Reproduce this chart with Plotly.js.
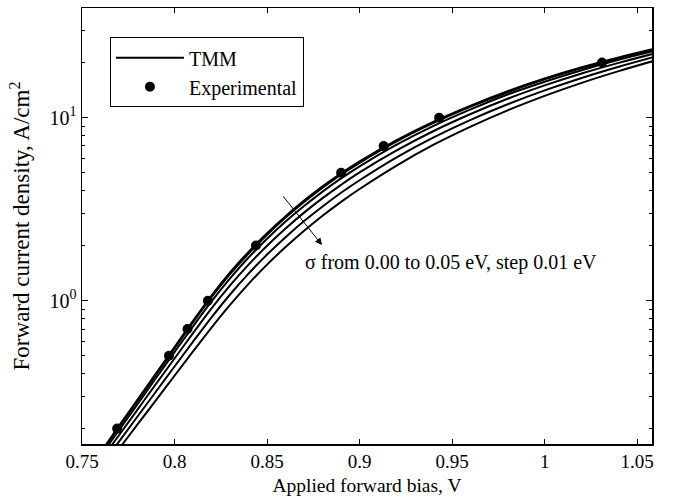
<!DOCTYPE html>
<html>
<head>
<meta charset="utf-8">
<script src="https://cdn.plot.ly/plotly-3.0.1.min.js"></script>
<style>
  html, body { margin: 0; padding: 0; background: #fff; }
  #chart { width: 675px; height: 499px; }
</style>
</head>
<body>
<div id="chart"></div>
<script>
// Applied forward bias (V) grid shared by the TMM curves
const vGrid = [0.76, 0.77, 0.78, 0.79, 0.80, 0.81, 0.82, 0.83, 0.84, 0.85, 0.86, 0.87, 0.88, 0.89, 0.90, 0.92, 0.94, 0.96, 0.98, 1.00, 1.02, 1.04, 1.06];

// Forward current density (A/cm^2) of the TMM curves, sigma = 0.00 ... 0.05 eV
const jSigma000 = [0.148, 0.207, 0.288, 0.401, 0.558, 0.776, 1.067, 1.426, 1.849, 2.339, 2.897, 3.524, 4.217, 4.966, 5.768, 7.534, 9.506, 11.64, 13.96, 16.37, 18.84, 21.33, 23.88];
const jSigma001 = [0.146, 0.204, 0.283, 0.394, 0.548, 0.762, 1.045, 1.396, 1.811, 2.291, 2.844, 3.459, 4.140, 4.875, 5.662, 7.413, 9.354, 11.48, 13.77, 16.18, 18.62, 21.13, 23.71];
const jSigma002 = [0.142, 0.196, 0.272, 0.378, 0.524, 0.724, 0.991, 1.324, 1.722, 2.178, 2.704, 3.289, 3.945, 4.656, 5.420, 7.112, 9.016, 11.09, 13.37, 15.70, 18.16, 20.70, 23.23];
const jSigma003 = [0.134, 0.184, 0.254, 0.351, 0.483, 0.665, 0.908, 1.211, 1.574, 1.995, 2.477, 3.027, 3.631, 4.295, 5.023, 6.622, 8.453, 10.47, 12.68, 15.00, 17.42, 19.91, 22.49];
const jSigma004 = [0.124, 0.170, 0.233, 0.319, 0.437, 0.597, 0.811, 1.081, 1.406, 1.786, 2.223, 2.723, 3.273, 3.890, 4.550, 6.067, 7.798, 9.727, 11.83, 14.09, 16.48, 18.97, 21.58];
const jSigma005 = [0.114, 0.155, 0.211, 0.286, 0.389, 0.528, 0.713, 0.948, 1.236, 1.574, 1.963, 2.410, 2.911, 3.467, 4.074, 5.470, 7.112, 8.933, 10.96, 13.15, 15.49, 17.95, 20.56];

const sigmaCurves = [jSigma000, jSigma001, jSigma002, jSigma003, jSigma004, jSigma005];
const sigmaNames = ['σ = 0.00 eV', 'σ = 0.01 eV', 'σ = 0.02 eV', 'σ = 0.03 eV', 'σ = 0.04 eV', 'σ = 0.05 eV'];

// Experimental points
const expV = [0.769, 0.797, 0.807, 0.818, 0.844, 0.890, 0.913, 0.943, 1.031];
const expJ = [0.2, 0.5, 0.7, 1.0, 2.0, 5.0, 7.0, 10, 20];

// Axis ticks
const xTickVals = [0.75, 0.8, 0.85, 0.9, 0.95, 1, 1.05];
const xTickText = ['0.75', '0.8', '0.85', '0.9', '0.95', '1', '1.05'];
const yTickVals = [1, 10];
const yTickText = ['10<sup>0</sup>', '10<sup>1</sup>'];
const yMinorVals = [0.2, 0.3, 0.4, 0.5, 0.6, 0.7, 0.8, 0.9, 2, 3, 4, 5, 6, 7, 8, 9, 20, 30];

const FONT = '"Liberation Serif", "Times New Roman", serif';

const traces = sigmaCurves.map((j, i) => ({
  type: 'scatter',
  mode: 'lines',
  x: vGrid,
  y: j,
  name: i === 0 ? 'TMM' : sigmaNames[i],
  showlegend: i === 0,
  legendgroup: 'tmm',
  line: { color: '#000', width: 2, shape: 'spline', smoothing: 1 }
}));

traces.push({
  type: 'scatter',
  mode: 'markers',
  x: expV,
  y: expJ,
  name: 'Experimental',
  legendgroup: 'exp',
  marker: { color: '#000', size: 10, symbol: 'circle' }
});

const layout = {
  width: 675,
  height: 499,
  margin: { l: 82, r: 23, t: 8, b: 55 },
  paper_bgcolor: '#fff',
  plot_bgcolor: '#fff',
  font: { family: FONT, color: '#000', size: 19 },
  showlegend: true,
  legend: {
    x: 0.049, y: 0.933, xanchor: 'left', yanchor: 'top',
    bordercolor: '#000', borderwidth: 1, bgcolor: '#fff',
    font: { family: FONT, size: 20, color: '#000' },
    itemwidth: 68,
    tracegroupgap: 0
  },
  xaxis: {
    range: [0.75, 1.058],
    tickmode: 'array', tickvals: xTickVals, ticktext: xTickText,
    ticks: 'inside', ticklen: 5, tickwidth: 1, tickcolor: '#000',
    showline: true, linecolor: '#000', linewidth: 1.5, mirror: 'ticks',
    showgrid: false, zeroline: false,
    tickfont: { family: FONT, size: 19, color: '#000' },
    title: { text: 'Applied forward bias, V', font: { family: FONT, size: 19.5, color: '#000' }, standoff: 7 }
  },
  yaxis: {
    type: 'log',
    range: [-0.783, 1.599],
    tickmode: 'array', tickvals: yTickVals, ticktext: yTickText,
    ticks: 'inside', ticklen: 6, tickwidth: 1, tickcolor: '#000',
    minor: { tickmode: 'array', tickvals: yMinorVals, ticks: 'inside', ticklen: 3, tickwidth: 1, tickcolor: '#000', showgrid: false },
    showline: true, linecolor: '#000', linewidth: 1.5, mirror: 'ticks',
    showgrid: false, zeroline: false,
    tickfont: { family: FONT, size: 20, color: '#000' },
    title: { text: 'Forward current density, A/cm<sup>2</sup>', font: { family: FONT, size: 23, color: '#000' }, standoff: 13 }
  },
  annotations: [
    {
      xref: 'x', yref: 'y', x: 0.8695, y: 0.206,
      text: 'σ from 0.00 to 0.05 eV, step 0.01 eV',
      showarrow: false, xanchor: 'left', yanchor: 'middle',
      font: { family: FONT, size: 20, color: '#000' }
    },
    {
      xref: 'x', yref: 'y', x: 0.8797, y: 0.304,
      axref: 'x', ayref: 'y', ax: 0.8581, ay: 0.578,
      text: '', showarrow: true, arrowhead: 2, arrowsize: 1.4, arrowwidth: 1, arrowcolor: '#000'
    }
  ]
};

Plotly.newPlot('chart', traces, layout, { staticPlot: true, displayModeBar: false });
</script>
</body>
</html>
